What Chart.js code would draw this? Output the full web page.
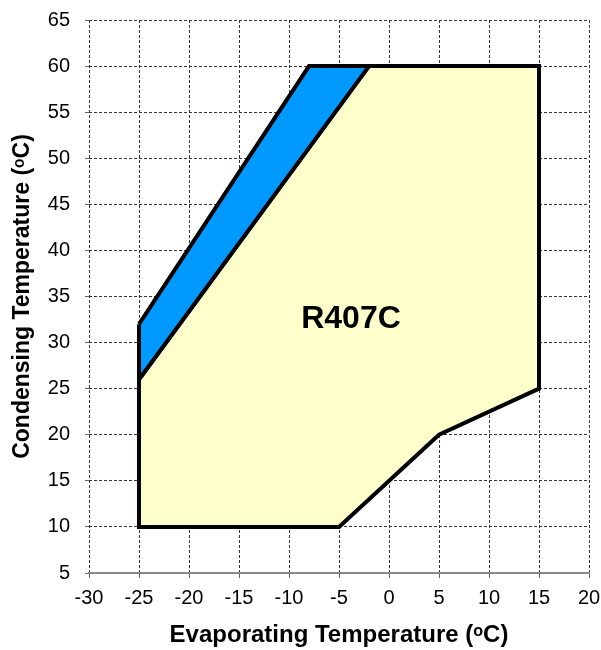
<!DOCTYPE html>
<html>
<head>
<meta charset="utf-8">
<script src="https://cdn.jsdelivr.net/npm/chart.js@4/dist/chart.umd.min.js"></script>
<style>
  html, body { margin: 0; padding: 0; background: #fff; }
  #wrap { width: 601px; height: 650px; }
</style>
</head>
<body>
<div id="wrap"><canvas id="c" width="601" height="650"></canvas></div>
<script>
// Envelope polygons (evaporating temp, condensing temp)
const blueX   = [-25, -8, -2, -25, -25];
const blueY   = [32, 60, 60, 26, 32];
const yellowX = [-25, -2, 15, 15, 5, -5, -25, -25];
const yellowY = [26, 60, 60, 25, 20, 10, 10, 26];
const xTicks  = [-30, -25, -20, -15, -10, -5, 0, 5, 10, 15, 20];
const yTicks  = [5, 10, 15, 20, 25, 30, 35, 40, 45, 50, 55, 60, 65];
const regionLabel = 'R407C';

const toPts = (xs, ys) => xs.map((x, i) => ({x: x, y: ys[i]}));
const FONT = '"Liberation Sans", Arial, sans-serif';

const labelPlugin = {
  id: 'regionLabel',
  afterDatasetsDraw(chart) {
    const {ctx, scales} = chart;
    const px = scales.x.getPixelForValue(-3.8);
    const py = scales.y.getPixelForValue(32.5);
    ctx.save();
    ctx.fillStyle = '#000';
    ctx.font = 'bold 32px ' + FONT;
    ctx.textAlign = 'center';
    ctx.textBaseline = 'middle';
    ctx.fillText(regionLabel, px, py);
    ctx.restore();
  }
};

function zeroPad(s) {
  s.paddingTop = 0; s.paddingBottom = 0; s.paddingLeft = 0; s.paddingRight = 0;
}

new Chart(document.getElementById('c'), {
  type: 'scatter',
  data: {
    datasets: [
      {
        data: toPts(blueX, blueY),
        showLine: true,
        fill: 'shape',
        backgroundColor: '#0099FF',
        borderColor: '#000',
        borderWidth: 4,
        pointRadius: 0,
        tension: 0,
        borderJoinStyle: 'miter',
        order: 1
      },
      {
        data: toPts(yellowX, yellowY),
        showLine: true,
        fill: 'shape',
        backgroundColor: '#FFFFCC',
        borderColor: '#000',
        borderWidth: 4,
        pointRadius: 0,
        tension: 0,
        borderJoinStyle: 'miter',
        order: 2
      }
    ]
  },
  options: {
    responsive: false,
    animation: false,
    layout: { padding: { top: 20, right: 12, left: 0, bottom: 0 } },
    plugins: { legend: { display: false }, tooltip: { enabled: false } },
    scales: {
      x: {
        type: 'linear',
        min: -30, max: 20,
        afterBuildTicks(s) { s.ticks = xTicks.map(v => ({value: v})); },
        afterFit(s) { s.height = 77; zeroPad(s); },
        grid: { color: '#333', lineWidth: 1, drawTicks: true, tickLength: 5, tickColor: '#666', tickBorderDash: [] },
        border: { display: true, color: '#888', width: 2, dash: [3, 2] },
        ticks: { color: '#000', padding: 8, font: { size: 20, family: FONT } },
        title: {
          display: true,
          text: 'Evaporating Temperature (ᵒC)',
          color: '#000',
          font: { size: 24, weight: 'bold', family: FONT },
          padding: { top: 4, bottom: 0 }
        }
      },
      y: {
        type: 'linear',
        min: 5, max: 65,
        afterBuildTicks(s) { s.ticks = yTicks.map(v => ({value: v})); },
        afterFit(s) { s.width = 89; zeroPad(s); },
        grid: { color: '#333', lineWidth: 1, drawTicks: true, tickLength: 4, tickColor: '#666', tickBorderDash: [] },
        border: { display: false, dash: [3, 2] },
        ticks: { color: '#000', padding: 15, font: { size: 20, family: FONT } },
        title: {
          display: true,
          text: 'Condensing Temperature (ᵒC)',
          color: '#000',
          font: { size: 23, weight: 'bold', family: FONT },
          padding: { top: 9, bottom: 0 }
        }
      }
    }
  },
  plugins: [labelPlugin]
});
</script>
</body>
</html>
